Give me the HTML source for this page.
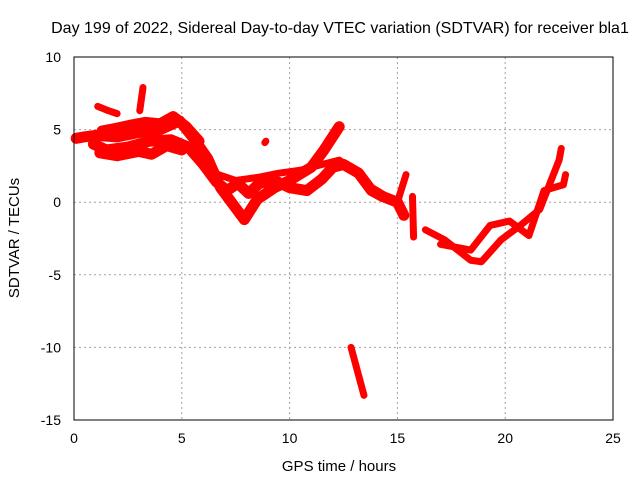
<!DOCTYPE html>
<html><head><meta charset="utf-8"><style>
body{margin:0;background:#fff;}
svg{display:block;font-family:"Liberation Sans",sans-serif;}
</style></head><body>
<svg id="chart" width="640" height="480">
<text x="340" y="33" text-anchor="middle" font-size="16">Day 199 of 2022, Sidereal Day-to-day VTEC variation (SDTVAR) for receiver bla1</text>
<text x="339" y="471" text-anchor="middle" font-size="15">GPS time / hours</text>
<text transform="translate(19,238) rotate(-90)" text-anchor="middle" font-size="15">SDTVAR / TECUs</text>
<g id="grid"></g><g id="ticks"></g><g id="series"></g>
<rect x="74" y="57" width="539" height="363" fill="none" stroke="#000" stroke-width="1"/>
</svg>
<script>
const xTicks=[0,5,10,15,20,25];
const yTicks=[10,5,0,-5,-10,-15];
const trackMainUpper=[[0.1,4.4],[0.5,4.5],[1.0,4.6],[2.0,4.5],[3.0,4.8],[4.0,5.0],[4.9,5.6],[5.5,4.5],[6.2,3.0],[6.8,1.0],[7.4,-0.2],[7.9,-1.2],[8.5,0.2],[9.3,1.0],[10.0,1.5],[11.0,2.4],[11.6,3.6],[12.3,5.2]];
const trackMainLower=[[0.9,4.0],[1.5,3.6],[2.5,3.8],[3.5,4.2],[4.5,4.3],[5.3,3.8],[6.0,2.6],[6.6,1.4],[7.1,0.8],[7.6,1.3],[8.1,0.6],[8.6,1.3],[9.3,1.5],[10.0,1.0],[10.8,0.8],[11.5,1.6],[12.0,2.4],[12.5,2.6],[13.2,2.0],[13.8,0.8],[14.3,0.4],[15.0,0.0],[15.3,-0.9]];
const trackBandTop=[[1.3,4.9],[2.0,5.1],[2.6,5.3],[3.3,5.5],[4.0,5.4],[4.6,5.9],[5.2,5.2],[5.8,4.2]];
const trackBandLow=[[1.2,3.4],[2.0,3.2],[3.0,3.5],[3.6,3.3],[4.3,3.9],[5.0,3.6]];
const trackMid=[[6.5,2.0],[7.5,1.5],[8.5,1.7],[9.5,2.0],[10.5,2.2],[11.5,2.6],[12.3,2.9],[13.0,2.2],[13.6,1.2],[14.5,0.4],[15.3,-0.6]];
const trackEarlyHigh=[[1.1,6.6],[1.6,6.3],[2.0,6.1]];
const trackSpike=[[3.05,6.3],[3.2,7.9]];
const trackLateSpike=[[15.0,0.0],[15.4,1.9]];
const trackGap=[[15.7,0.4],[15.75,-2.4]];
const trackLateA=[[16.3,-1.9],[17.2,-2.6],[18.4,-4.0],[18.9,-4.1],[19.8,-2.6],[20.7,-1.6],[21.6,-0.5],[22.5,2.9],[22.6,3.7]];
const trackLateB=[[17.0,-2.9],[18.4,-3.3],[19.3,-1.6],[20.2,-1.3],[21.1,-2.3],[21.8,0.8],[22.7,1.2],[22.8,1.9]];
const trackLow=[[12.85,-10.0],[13.45,-13.3]];
const trackPoint=[[8.85,4.1],[8.9,4.2]];
const tracks=[trackMainUpper,trackMainLower,trackBandTop,trackBandLow,trackMid,trackEarlyHigh,trackSpike,trackLateSpike,trackGap,trackLateA,trackLateB,trackLow,trackPoint];
const X=h=>74+h*539/25, Y=v=>57+(10-v)*363/25;
const NS="http://www.w3.org/2000/svg";
const grid=document.getElementById('grid'),ticks=document.getElementById('ticks'),ser=document.getElementById('series');
function mk(tag,a,p){const e=document.createElementNS(NS,tag);for(const k in a)e.setAttribute(k,a[k]);p.appendChild(e);return e;}
xTicks.forEach(t=>{
  if(t>0&&t<25){const g=mk('line',{x1:X(t),x2:X(t),y1:57,y2:420,stroke:'#a0a0a0','stroke-dasharray':'2,3'},grid);
  
  }
  const l=mk('text',{x:X(t),y:443,'text-anchor':'middle','font-size':14},ticks);l.textContent=t;
  
  
});
yTicks.forEach(t=>{
  if(t>-15&&t<10){const g=mk('line',{x1:74,x2:613,y1:Y(t),y2:Y(t),stroke:'#a0a0a0','stroke-dasharray':'2,3'},grid);
  
  }
  const l=mk('text',{x:61,y:Y(t)+5,'text-anchor':'end','font-size':14},ticks);l.textContent=t;
  
  
});
tracks.forEach((tr,i)=>{
  const p=mk('polyline',{points:tr.map(d=>X(d[0])+','+Y(d[1])).join(' '),fill:'none',stroke:'#ff0000','stroke-width':(i<4?11:7),'stroke-linejoin':'round','stroke-linecap':'round'},ser);
  
  
});
</script>
</body></html>
